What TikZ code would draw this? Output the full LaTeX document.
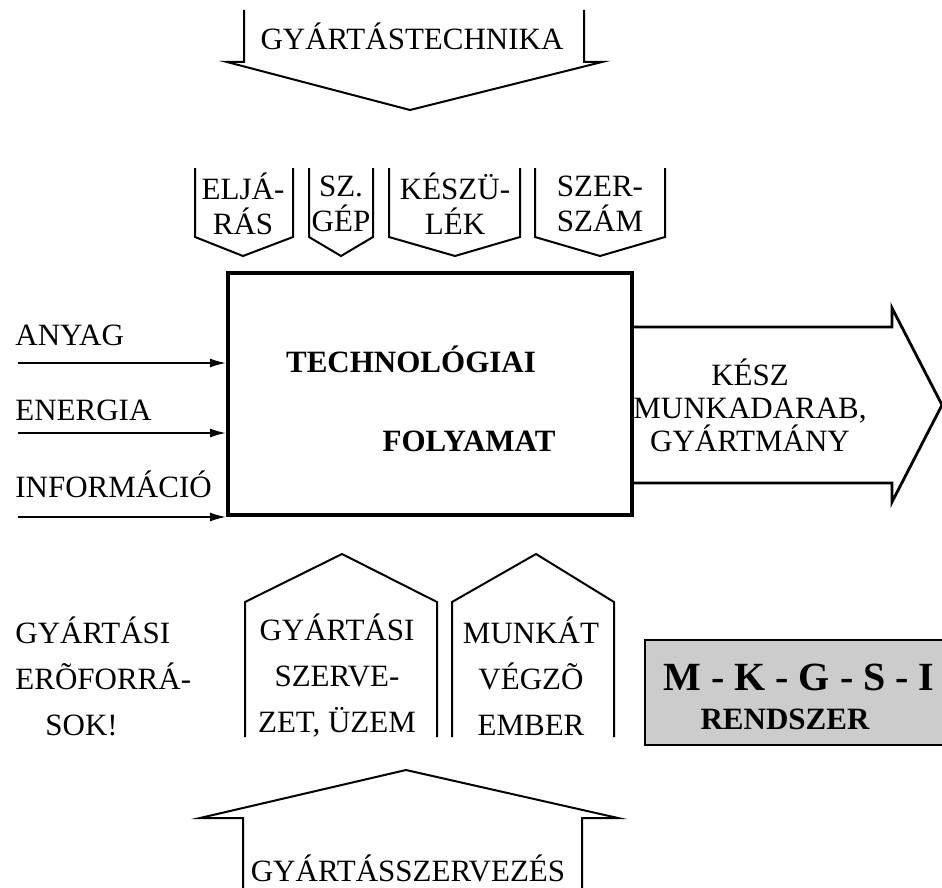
\documentclass[tikz,border=0pt]{standalone}
\usepackage{fontspec}
\setmainfont{Liberation Serif}
\usepackage{tikz}
\usetikzlibrary{arrows.meta}

\begin{document}
\begin{tikzpicture}[x=0.5pt,y=-0.5pt,
	txt/.style={font=\fontsize{15.5}{17.5}\selectfont,inner sep=0pt,align=center},
	bigtxt/.style={txt,font=\fontsize{15.5}{23}\selectfont},
	boldtxt/.style={txt,font=\fontsize{15.5}{17.5}\selectfont\bfseries},
	outline/.style={line width=1pt,line join=miter},
	inarrow/.style={line width=0.9pt,-{Latex[length=8pt,width=4.5pt]}}]
	\useasboundingbox (0,0) rectangle (942,888);

	% top: gyartastechnika
	\draw[outline] (244,10) -- (244,62) -- (227,62) -- (410,110) -- (602,62) -- (584,62) -- (584,10);
	\node[txt] (gytech) at (412,36) {GYÁRTÁSTECHNIKA};

	% four small arrows
	\foreach \l/\r/\t/\lab [count=\i] in {195/293/243/{ELJÁ-\\RÁS}, 309/373/341/{SZ.\\GÉP}, 389/520/455/{KÉSZÜ-\\LÉK}, 535/665/600/{SZER-\\SZÁM}} {
		\draw[outline] (\l,168) -- (\l,237) -- (\t,256) -- (\r,237) -- (\r,168);
		\node[txt] (tool\i) at (\t,204) {\lab};
	}

	% process box
	\node[draw,line width=2pt,minimum width=202pt,minimum height=121pt,inner sep=0pt] (proc) at (430,394) {};
	\node[boldtxt] (techn) at (411,359) {TECHNOLÓGIAI};
	\node[boldtxt] (foly) at (469,441) {FOLYAMAT};

	% inputs
	\foreach \y/\ly/\lab [count=\i] in {363/335/ANYAG, 433/410/ENERGIA, 517/484/INFORMÁCIÓ} {
		\coordinate (in\i) at (18,\y);
		\node[txt,anchor=west] (inlab\i) at (15,\ly) {\lab};
		\draw[inarrow] (in\i) -- (in\i -| proc.west);
	}

	% output arrow
	\draw[outline,line width=1.4pt] (632,327) -- (892,327) -- (892,308) -- (942,405) -- (892,502) -- (892,483) -- (632,483);
	\node[txt,font=\fontsize{15.5}{16.5}\selectfont] (kesz) at (750,405) {KÉSZ\\MUNKADARAB,\\GYÁRTMÁNY};

	% resources
	\node[bigtxt,align=left,anchor=west] (eroforr) at (15,676) {GYÁRTÁSI\\ERÕFORRÁ-\\\hspace{15pt}SOK!};
	\foreach \l/\r/\t/\lab [count=\i] in {245/437/342/{GYÁRTÁSI\\SZERVE-\\ZET, ÜZEM}, 452/614/536/{MUNKÁT\\VÉGZÕ\\EMBER}} {
		\draw[outline] (\l,737) -- (\l,602) -- (\t,554) -- (\r,602) -- (\r,737);
		\node[bigtxt] (res\i) at (\t-5,676) {\lab};
	}

	% mkgsi
	\draw[line width=1pt,fill=black!20] (645,640) rectangle (950,745);
	\node[font=\fontsize{20}{20}\selectfont\bfseries,inner sep=0pt] (mkgsi) at (799,677) {M - K - G - S - I};
	\node[boldtxt] (rendsz) at (785,719) {RENDSZER};

	% bottom: gyartasszervezes
	\draw[outline] (243,890) -- (243,818) -- (200,818) -- (406,770) -- (618,818) -- (582,818) -- (582,890);
	\node[txt] (gyszerv) at (408,868) {GYÁRTÁSSZERVEZÉS};
\end{tikzpicture}
\end{document}
